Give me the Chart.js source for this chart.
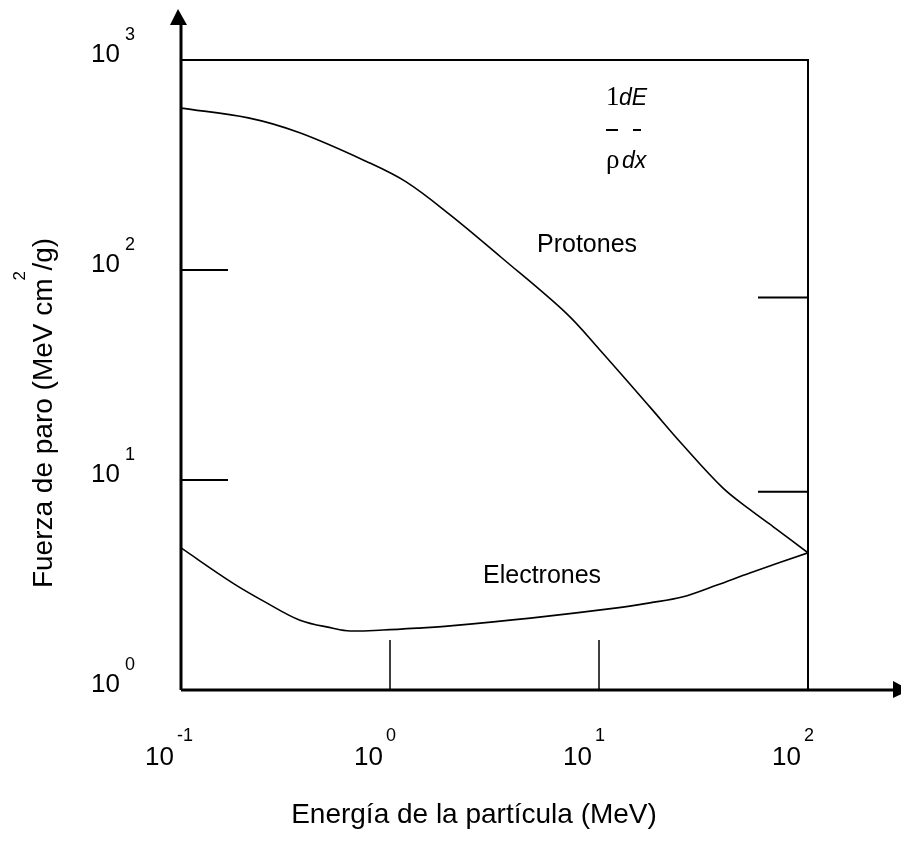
<!DOCTYPE html>
<html>
<head>
<meta charset="utf-8">
<script src="https://cdn.jsdelivr.net/npm/chart.js@4.4.1/dist/chart.umd.min.js"></script>
<style>
  body { margin: 0; background: #fff; }
  #wrap { width: 901px; height: 846px; }
</style>
</head>
<body>
<div id="wrap"><canvas id="stopChart" width="901" height="846"></canvas></div>
<script>
// energy (MeV) and stopping power (MeV cm2/g)
const protonE = [0.1, 0.21, 0.37, 0.78, 1.2, 1.94, 3.4, 7.0, 10.1, 17.5, 25, 39, 53, 68, 100];
const protonS = [590, 530, 450, 327, 262, 183, 115, 62, 41.6, 22.3, 14.8, 9.2, 7.2, 6.0, 4.5];

const electronE = [0.1, 0.177, 0.257, 0.371, 0.533, 0.644, 0.926, 1.35, 1.94, 4.7, 12.2, 17.5, 25, 36.7, 52.7, 100];
const electronS = [4.75, 3.23, 2.6, 2.15, 1.97, 1.91, 1.93, 1.97, 2.02, 2.2, 2.46, 2.6, 2.77, 3.16, 3.61, 4.5];

const xDecades = [0.1, 1, 10, 100];
const yDecades = [1, 10, 100, 1000];
const xTickMarks = [1, 10];       // short vertical ticks on the x axis
const yTickMarks = [10, 100];     // short ticks on the left side
const rightTickMarks = [74, 8.8]; // short ticks on the right border

const ctx = document.getElementById("stopChart");

function toPoints(xs, ys) {
  return xs.map((v, i) => ({ x: v, y: ys[i] }));
}

function expOf(v) {
  return String(Math.round(Math.log10(v)));
}

// axes, arrows, ticks and all text drawn by hand, like the original figure
const figurePlugin = {
  id: "figure",
  afterDraw(chart) {
    const c = chart.ctx;
    const { left, right, top, bottom } = chart.chartArea;
    const xs = chart.scales.x;
    const ys = chart.scales.y;
    c.save();
    c.strokeStyle = "#000";
    c.fillStyle = "#000";

    // frame top + right
    c.lineWidth = 2;
    c.beginPath();
    c.moveTo(left, top);
    c.lineTo(right, top);
    c.lineTo(right, bottom);
    c.stroke();

    // main axes (thicker)
    c.lineWidth = 3;
    c.beginPath();
    c.moveTo(left, bottom);
    c.lineTo(left, 24);
    c.moveTo(left, bottom);
    c.lineTo(894, bottom);
    c.stroke();
    // arrow heads
    c.beginPath();
    c.moveTo(left - 3, 9);
    c.lineTo(left - 11, 25);
    c.lineTo(left + 6, 25);
    c.closePath();
    c.fill();
    c.beginPath();
    c.moveTo(910, bottom);
    c.lineTo(893, bottom - 9);
    c.lineTo(893, bottom + 8);
    c.closePath();
    c.fill();

    // tick marks
    c.lineWidth = 2;
    c.beginPath();
    for (const v of yTickMarks) {
      const py = ys.getPixelForValue(v);
      c.moveTo(left, py);
      c.lineTo(left + 47, py);
    }
    for (const v of rightTickMarks) {
      const py = ys.getPixelForValue(v);
      c.moveTo(right - 50, py);
      c.lineTo(right, py);
    }
    c.stroke();
    c.lineWidth = 1.5;
    c.beginPath();
    for (const v of xTickMarks) {
      const px = xs.getPixelForValue(v);
      c.moveTo(px, bottom);
      c.lineTo(px, bottom - 50);
    }
    c.stroke();

    // y decade labels
    c.textBaseline = "alphabetic";
    for (const v of yDecades) {
      const py = ys.getPixelForValue(v);
      c.font = "26px 'Liberation Sans', Arial, sans-serif";
      c.textAlign = "right";
      c.fillText("10", 120, py + 2);
      c.font = "18px 'Liberation Sans', Arial, sans-serif";
      c.textAlign = "left";
      c.fillText(expOf(v), 125, py - 20);
    }
    // x decade labels
    for (const v of xDecades) {
      const px = xs.getPixelForValue(v);
      c.font = "26px 'Liberation Sans', Arial, sans-serif";
      c.textAlign = "right";
      c.fillText("10", px - 7, 765);
      c.font = "18px 'Liberation Sans', Arial, sans-serif";
      c.textAlign = "left";
      c.fillText(expOf(v), px - 4, 741);
    }

    // axis titles
    c.font = "28px 'Liberation Sans', Arial, sans-serif";
    c.textAlign = "center";
    c.fillText("Energía de la partícula (MeV)", 474, 823);

    c.save();
    c.translate(52, 413);
    c.rotate(-Math.PI / 2);
    const yTitle = "Fuerza de paro (MeV cm /g)";
    c.font = "28px 'Liberation Sans', Arial, sans-serif";
    c.textAlign = "center";
    c.fillText(yTitle, 0, 0);
    const fullW = c.measureText(yTitle).width;
    const preW = c.measureText("Fuerza de paro (MeV cm").width;
    c.font = "17px 'Liberation Sans', Arial, sans-serif";
    c.textAlign = "left";
    c.fillText("2", -fullW / 2 + preW - 2, -27);
    c.restore();

    // curve names
    c.font = "25px 'Liberation Sans', Arial, sans-serif";
    c.textAlign = "left";
    c.fillText("Protones", 537, 252);
    c.fillText("Electrones", 483, 583);

    // 1/rho dE/dx
    c.font = "27px 'Liberation Serif', serif";
    c.fillText("1", 606, 105);
    c.font = "italic 23px 'Liberation Sans', Arial, sans-serif";
    c.fillText("dE", 619, 105);
    c.lineWidth = 2;
    c.beginPath();
    c.moveTo(606, 130);
    c.lineTo(618, 130);
    c.moveTo(633, 130);
    c.lineTo(641, 130);
    c.stroke();
    c.font = "27px 'Liberation Serif', serif";
    c.fillText("ρ", 606, 168);
    c.font = "italic 23px 'Liberation Sans', Arial, sans-serif";
    c.fillText("dx", 622, 168);

    c.restore();
  },
};

new Chart(ctx, {
  type: "line",
  data: {
    datasets: [
      {
        label: "Protones",
        data: toPoints(protonE, protonS),
        borderColor: "#000",
        borderWidth: 1.6,
        pointRadius: 0,
        tension: 0.35,
        fill: false,
      },
      {
        label: "Electrones",
        data: toPoints(electronE, electronS),
        borderColor: "#000",
        borderWidth: 1.6,
        pointRadius: 0,
        tension: 0.35,
        fill: false,
      },
    ],
  },
  options: {
    responsive: false,
    animation: false,
    layout: {
      padding: { left: 181, right: 93, top: 60, bottom: 156 },
    },
    plugins: {
      legend: { display: false },
      tooltip: { enabled: false },
    },
    scales: {
      x: { type: "logarithmic", min: 0.1, max: 100, display: false },
      y: { type: "logarithmic", min: 1, max: 1000, display: false },
    },
  },
  plugins: [figurePlugin],
});
</script>
</body>
</html>
